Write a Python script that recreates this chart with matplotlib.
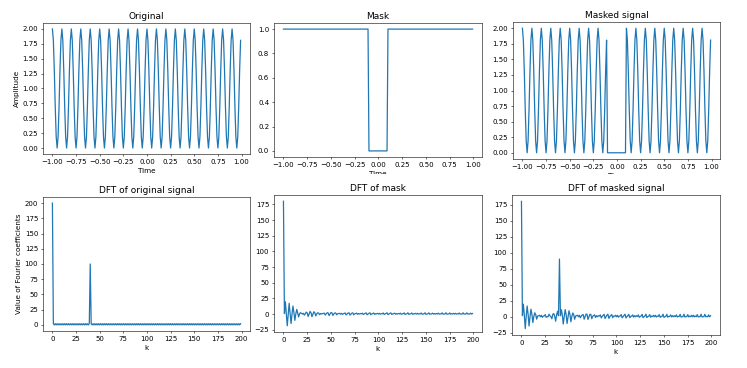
import numpy as np
import matplotlib.pyplot as plt
from matplotlib.patches import Rectangle

# one period of the sampled signal 1 + cos (10 samples per period)
cycle = [2.0, 1.809, 1.309, 0.691, 0.191, 0.0, 0.191, 0.691, 1.309, 1.809]
n_cycles = 20
t_start, t_step = -1.0, 0.01
gap_start, gap_stop = 90, 110   # samples set to zero by the mask (t = -0.10 .. 0.09)
n_fft = 400                     # zero padded DFT length
n_show = 200                    # number of coefficients plotted

titles = ["Original", "Mask", "Masked signal",
          "DFT of original signal", "DFT of mask", "DFT of masked signal"]

signal = np.tile(cycle, n_cycles)
t = t_start + t_step * np.arange(len(signal))
mask = np.ones(len(signal))
mask[gap_start:gap_stop] = 0
masked = signal * mask

k = np.arange(n_show)
dft_sig = np.fft.fft(signal, n_fft).real[:n_show]
dft_mask = np.fft.fft(mask, n_fft).real[:n_show]
dft_masked = np.fft.fft(masked, n_fft).real[:n_show]

plt.rcParams['xtick.labelsize'] = 10
plt.rcParams['ytick.labelsize'] = 10
plt.rcParams['axes.titlesize'] = 13
plt.rcParams['axes.labelsize'] = 10.5
plt.rcParams['lines.linewidth'] = 1.8

W, H = 747, 368
fig = plt.figure(figsize=(W / 50, H / 50), dpi=50)


def add_ax(l, t_, r, b, z=0):
    return fig.add_axes([l / W, 1 - b / H, (r - l) / W, (b - t_) / H], zorder=z)


# pixel boxes (left, top, right, bottom)
ax0 = add_ax(43, 23, 250, 154)
ax1 = add_ax(274, 23, 482, 157)
ax2 = add_ax(513, 22, 720, 159)
ax3 = add_ax(43, 197, 250, 331, 2)
ax4 = add_ax(274, 195, 482, 332, 2)
ax5 = add_ax(512, 195, 720, 335, 2)

ax0.plot(t, signal)
ax1.plot(t, mask)
ax2.plot(t, masked)
ax3.plot(k, dft_sig)
ax4.plot(k, dft_mask)
ax5.plot(k, dft_masked)

for ax, title in zip([ax0, ax1, ax2, ax3, ax4, ax5], titles):
    ax.set_title(title)

for ax in [ax0, ax1, ax2]:
    ax.set_xlabel("Time")
for ax in [ax3, ax4, ax5]:
    ax.set_xlabel("k")
ax0.set_ylabel("Amplitude")
ax3.set_ylabel("Value of Fourier coefficients")

# the top row is cut off just under the axes, hiding part of the labels
fig.patches.append(Rectangle((0, 1 - 184 / H), 1, 10 / H, transform=fig.transFigure,
                             facecolor="white", edgecolor="none", zorder=1))

fig.savefig("out.png", dpi=50)
